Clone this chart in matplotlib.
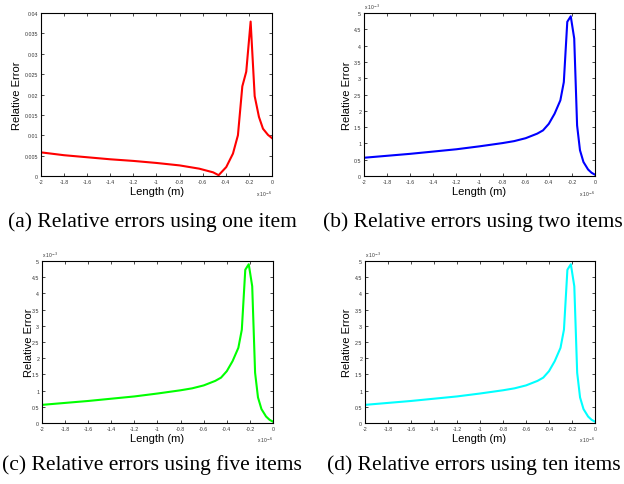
import matplotlib
matplotlib.use("Agg")
import matplotlib.pyplot as plt
import numpy as np

# Data (x in units of 1e-6 m)
length_one = [-2.0, -1.8, -1.6, -1.4, -1.2, -1.0, -0.8, -0.63, -0.51, -0.462, -0.396, -0.338,
              -0.295, -0.257, -0.223, -0.185, -0.15, -0.113, -0.078, -0.035, 0.0]
error_one = [0.0058, 0.0051, 0.0046, 0.0041, 0.0037, 0.0032, 0.0026, 0.0018, 0.0009, 0.0002,
             0.0022, 0.0055, 0.0100, 0.0220, 0.0256, 0.0379, 0.0196, 0.0145, 0.0116, 0.0101, 0.0093]

length_many = [-2.0, -1.6, -1.2, -1.0, -0.8, -0.7, -0.6, -0.5, -0.45, -0.4, -0.35, -0.3, -0.27,
               -0.24, -0.21, -0.18, -0.155, -0.13, -0.1, -0.06, -0.03, 0.0]
error_two = [0.56, 0.68, 0.82, 0.91, 1.01, 1.07, 1.16, 1.30, 1.40, 1.60, 1.91, 2.32, 2.88,
             4.73, 4.90, 4.22, 1.55, 0.79, 0.43, 0.20, 0.10, 0.04]
error_five = list(error_two)
error_ten = list(error_two)

captions = ["(a) Relative errors using one item", "(b) Relative errors using two items",
            "(c) Relative errors using five items", "(d) Relative errors using ten items"]
colors = ["#ff0000", "#0000ff", "#00ff00", "#00ffff"]

W, H = 624, 485
fig = plt.figure(figsize=(W / 100, H / 100), dpi=100)

boxes = [(41, 14, 272, 177), (364, 14, 595, 177), (42, 262, 273, 424), (365, 262, 595, 424)]
cap_pos = [(152, 222), (473, 222), (152, 465), (474, 465)]
ylab_x = [17, 347, 29, 347]
xlab_pos = [(157, 192), (479, 192), (157, 439), (479, 439)]

series = [(length_one, error_one), (length_many, error_two),
          (length_many, error_five), (length_many, error_ten)]

sans = ["Liberation Sans", "DejaVu Sans"]
for i, ((l, t, r, b), (xs, ys)) in enumerate(zip(boxes, series)):
    ax = fig.add_axes([l / W, 1 - b / H, (r - l) / W, (b - t) / H])
    ax.plot(xs, ys, color=colors[i], lw=1.5)
    ax.set_xlim(-2, 0)
    ax.set_xticks(np.arange(-2, 0.01, 0.2))
    ax.set_xticklabels(["-2", "-1.8", "-1.6", "-1.4", "-1.2", "-1", "-0.8", "-0.6", "-0.4", "-0.2", "0"])
    if i == 0:
        ax.set_ylim(0, 0.04)
        ax.set_yticks(np.arange(0, 0.0401, 0.005))
        ax.set_yticklabels(["0", "0.005", "0.01", "0.015", "0.02", "0.025", "0.03", "0.035", "0.04"])
    else:
        ax.set_ylim(0, 5)
        ax.set_yticks(np.arange(0, 5.01, 0.5))
        ax.set_yticklabels(["0", "0.5", "1", "1.5", "2", "2.5", "3", "3.5", "4", "4.5", "5"])
        ax.text(0.0, 1.01, r"x 10$^{-3}$", transform=ax.transAxes, fontsize=3.5,
                family=sans, ha="left", va="bottom", color="#333333")
    ax.text(1.0, -0.075, r"x 10$^{-6}$", transform=ax.transAxes, fontsize=3.5,
            family=sans, ha="right", va="top", color="#333333")
    ax.tick_params(direction="in", length=2, width=0.5, labelsize=3.8, pad=2,
                   top=True, right=True, colors="black", labelcolor="#333333")
    for lab in ax.get_xticklabels() + ax.get_yticklabels():
        lab.set_family(sans)
    for s in ax.spines.values():
        s.set_linewidth(0.8)
    cy = (t + b) / 2
    fig.text(ylab_x[i] / W, 1 - cy / H, "Relative Error", rotation=90, ha="center",
             va="center", fontsize=8, family=sans)
    fig.text(xlab_pos[i][0] / W, 1 - xlab_pos[i][1] / H, "Length (m)", ha="center",
             va="center", fontsize=8, family=sans)

for cap, (cx, cy) in zip(captions, cap_pos):
    fig.text(cx / W, 1 - cy / H, cap, ha="center", va="center", fontsize=15.5,
             family=["Liberation Serif", "DejaVu Serif"])

fig.savefig("out.png", dpi=100)
